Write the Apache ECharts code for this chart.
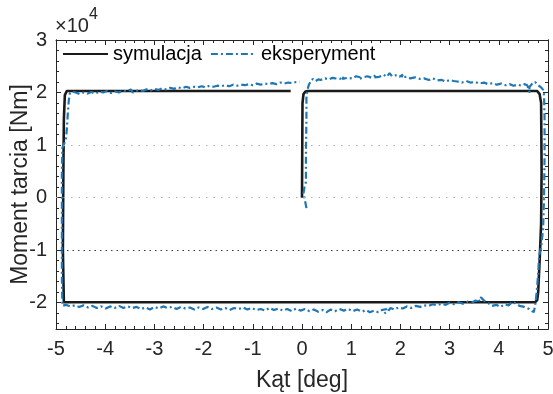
<!DOCTYPE html>
<html><head><meta charset="utf-8">
<script src="https://cdn.jsdelivr.net/npm/echarts@6/dist/echarts.min.js"></script>
<style>html,body{margin:0;padding:0;background:#fff}#c{width:553px;height:394px}</style>
</head><body><div id="c"></div>
<script>
// values in units of 1e4 Nm (axis shows ×10^4)
const xTicks = [-5,-4,-3,-2,-1,0,1,2,3,4,5];
const yTicks = [-2,-1,0,1,2,3];
const gridLineVals = [1, 0, -1];

// symulacja (black)
const simX = [0.00, 0.01, 0.03, 0.07, 0.12, 4.78, 4.83, 4.86, 4.87, 4.86, 4.83, 4.80, 4.78, 4.74, -4.84, -4.86, -4.86, -4.85, -4.84, -4.82, -4.78, -0.23];
const simY = [0.00, 1.80, 1.97, 2.02, 2.03, 2.03, 1.97, 1.80, 0.50, -0.50, -1.20, -1.80, -1.95, -1.99, -1.99, -1.96, -1.00, 0.50, 1.50, 1.95, 2.03, 2.03];

// eksperyment (blue), segments
const expStart = [[0.09,-0.20],[0.06,-0.05],[0.03,0.08],[0.05,0.20],[0.08,0.30],[0.08,0.90],[0.09,1.50],[0.09,1.90],[0.11,2.05],[0.14,2.15],[0.18,2.22]];
const expTopRight = [[0.22,2.26],[0.28,2.22],[0.33,2.25],[0.30,2.28],[0.38,2.24],[0.47,2.27],[0.55,2.25],[0.62,2.28],[0.58,2.31],[0.68,2.27],[0.77,2.26],[0.85,2.30],[0.82,2.26],[0.93,2.28],[1.02,2.27],[1.10,2.31],[1.18,2.29],[1.15,2.25],[1.25,2.29],[1.33,2.31],[1.42,2.28],[1.50,2.33],[1.47,2.29],[1.57,2.30],[1.66,2.34],[1.72,2.30],[1.78,2.37],[1.83,2.31],[1.80,2.28],[1.90,2.33],[1.98,2.30],[2.05,2.34],[2.02,2.29],[2.12,2.30],[2.20,2.27],[2.30,2.29],[2.40,2.26],[2.48,2.27],[2.58,2.24],[2.66,2.27],[2.75,2.23],[2.84,2.24],[2.92,2.21],[3.00,2.24],[3.08,2.22],[3.05,2.19],[3.16,2.21],[3.25,2.19],[3.34,2.22],[3.42,2.19],[3.52,2.20],[3.60,2.17],[3.70,2.19],[3.78,2.16],[3.88,2.18],[3.96,2.15],[4.05,2.17],[4.14,2.14],[4.22,2.16],[4.30,2.13],[4.38,2.15],[4.46,2.13],[4.52,2.16],[4.58,2.14],[4.61,2.04],[4.63,2.00],[4.62,2.10],[4.68,2.17],[4.74,2.20],[4.78,2.15],[4.82,2.18],[4.86,2.10],[4.90,2.05],[4.92,1.95]];
const expRight = [[4.93,1.50],[4.93,0.80],[4.92,0.00],[4.90,-0.60],[4.86,-0.95],[4.82,-1.10],[4.80,-1.45],[4.77,-1.80],[4.74,-2.05],[4.71,-2.18]];
const expBottom = [[4.62,-2.12],[4.52,-2.08],[4.42,-2.06],[4.35,-2.02],[4.28,-1.98],[4.20,-2.05],[4.12,-2.03],[4.03,-2.08],[3.95,-2.04],[3.86,-2.06],[3.78,-2.00],[3.70,-1.96],[3.64,-1.90],[3.58,-1.94],[3.62,-1.98],[3.52,-1.96],[3.45,-2.00],[3.36,-1.98],[3.27,-2.02],[3.18,-1.99],[3.09,-2.03],[3.00,-2.00],[2.92,-2.04],[2.83,-2.02],[2.75,-2.05],[2.66,-2.03],[2.57,-2.06],[2.48,-2.05],[2.40,-2.08],[2.31,-2.06],[2.22,-2.10],[2.13,-2.07],[2.05,-2.11],[1.96,-2.09],[1.88,-2.13],[1.80,-2.10],[1.74,-2.17],[1.68,-2.20],[1.72,-2.12],[1.62,-2.14],[1.55,-2.18],[1.47,-2.15],[1.38,-2.18],[1.30,-2.14],[1.22,-2.17],[1.12,-2.13],[1.03,-2.16],[0.94,-2.12],[0.85,-2.15],[0.76,-2.12],[0.67,-2.16],[0.58,-2.13],[0.50,-2.18],[0.42,-2.14],[0.33,-2.17],[0.24,-2.13],[0.15,-2.16],[0.06,-2.12],[-0.03,-2.15],[-0.12,-2.11],[-0.21,-2.16],[-0.30,-2.12],[-0.39,-2.15],[-0.48,-2.11],[-0.57,-2.14],[-0.66,-2.10],[-0.75,-2.15],[-0.84,-2.12],[-0.93,-2.14],[-1.02,-2.10],[-1.11,-2.13],[-1.20,-2.09],[-1.29,-2.12],[-1.38,-2.10],[-1.47,-2.14],[-1.56,-2.10],[-1.65,-2.13],[-1.74,-2.09],[-1.83,-2.12],[-1.92,-2.08],[-2.01,-2.12],[-2.10,-2.09],[-2.19,-2.13],[-2.28,-2.09],[-2.37,-2.11],[-2.46,-2.08],[-2.55,-2.12],[-2.64,-2.08],[-2.73,-2.10],[-2.82,-2.07],[-2.91,-2.11],[-3.00,-2.08],[-3.09,-2.13],[-3.18,-2.09],[-3.27,-2.12],[-3.36,-2.08],[-3.45,-2.10],[-3.54,-2.07],[-3.63,-2.10],[-3.72,-2.06],[-3.81,-2.10],[-3.90,-2.07],[-3.99,-2.11],[-4.08,-2.07],[-4.17,-2.10],[-4.26,-2.06],[-4.35,-2.09],[-4.44,-2.05],[-4.53,-2.08],[-4.62,-2.05],[-4.71,-2.07],[-4.80,-2.04],[-4.87,-2.06]];
const expLeft = [[-4.88,-1.50],[-4.88,-0.50],[-4.88,0.50],[-4.87,0.95],[-4.80,1.10],[-4.78,1.30],[-4.76,1.60],[-4.74,1.85],[-4.72,1.98],[-4.68,2.02]];
const expTopLeft = [[-4.60,2.00],[-4.52,1.97],[-4.44,2.00],[-4.36,1.98],[-4.28,2.01],[-4.20,1.98],[-4.12,2.02],[-4.04,2.00],[-3.96,2.03],[-3.88,1.99],[-3.80,2.02],[-3.72,2.00],[-3.64,2.04],[-3.56,2.02],[-3.48,2.06],[-3.44,2.00],[-3.40,2.03],[-3.32,2.05],[-3.24,2.03],[-3.16,2.06],[-3.08,2.04],[-3.00,2.07],[-2.92,2.05],[-2.84,2.08],[-2.76,2.06],[-2.68,2.09],[-2.60,2.07],[-2.52,2.10],[-2.44,2.08],[-2.36,2.11],[-2.28,2.09],[-2.20,2.11],[-2.12,2.10],[-2.04,2.12],[-1.96,2.10],[-1.88,2.13],[-1.80,2.11],[-1.72,2.13],[-1.64,2.12],[-1.56,2.14],[-1.48,2.12],[-1.40,2.15],[-1.32,2.13],[-1.24,2.15],[-1.16,2.14],[-1.08,2.16],[-1.00,2.14],[-0.92,2.17],[-0.84,2.15],[-0.76,2.17],[-0.68,2.16],[-0.60,2.18],[-0.52,2.16],[-0.44,2.19],[-0.36,2.17],[-0.28,2.19],[-0.20,2.18],[-0.12,2.20],[-0.05,2.21]];

const FONT = 'Liberation Sans, Arial, Helvetica, sans-serif';
const AX = '#262626';
const BLUE = '#1f77b4';
const simData = simX.map((x,i)=>[x, simY[i]]);
const expData = [].concat(expStart, expTopRight, expRight, expBottom, expLeft, expTopLeft);

const yMinor = [];
for (let k = -12; k <= 15; k++) { if (k % 5 !== 0) yMinor.push(+(k*0.2).toFixed(1)); }

function xAx(pos, show) {
  return {type:'value', min:-5, max:5, interval:1, position:pos,
    axisLine:{show:true, onZero:false, lineStyle:{color:AX, width:1}},
    axisTick:{show:true, inside:true, length:5, lineStyle:{color:AX}},
    minorTick:{show:true, splitNumber:5, length:3, lineStyle:{color:AX}},
    splitLine:{show:false}, minorSplitLine:{show:false},
    axisLabel:{show:show, fontSize:20, color:AX, fontFamily:FONT, margin:10},
    name: show ? 'Kąt [deg]' : '', nameLocation:'middle', nameGap:40, nameMoveOverlap:false,
    nameTextStyle:{fontSize:23, color:AX, fontFamily:FONT}};
}
function yAx(pos, vals, len, labels) {
  return {type:'value', min:-2.5, max:3, position:pos,
    axisLine:{show:true, onZero:false, lineStyle:{color:AX, width:1}},
    axisTick:{show:true, inside:true, length:len, customValues:vals, lineStyle:{color:AX}},
    splitLine:{show:false},
    axisLabel:{show:labels, customValues:vals, fontSize:20, color:AX, fontFamily:FONT, margin:9},
    name: labels ? 'Moment tarcia [Nm]' : '', nameLocation:'middle', nameGap:24, nameMoveOverlap:false,
    nameTextStyle:{fontSize:23, color:AX, fontFamily:FONT}};
}

const chart = echarts.init(document.getElementById('c'), null, {renderer:'canvas'});
chart.setOption({
  animation:false,
  backgroundColor:'#fff',
  grid:{left:56, right:5, top:40, bottom:65, containLabel:false, outerBoundsMode:'none'},
  xAxis:[xAx('bottom', true), xAx('top', false)],
  yAxis:[yAx('left', yTicks, 5, true), yAx('left', yMinor, 3, false), yAx('right', yTicks, 5, false), yAx('right', yMinor, 3, false)],
  legend:{left:62, top:44, itemWidth:45, itemHeight:14, itemGap:8, padding:[0,0,0,0],
    itemStyle:{opacity:0},
    textStyle:{fontSize:20, color:'#000', fontFamily:FONT},
    data:['symulacja','eksperyment']},
  title:[
    {text:'×10', left:55, top:16, padding:0, textStyle:{fontSize:20, fontWeight:'normal', fontFamily:FONT, color:AX}},
    {text:'4', left:89, top:7, padding:0, textStyle:{fontSize:16, fontWeight:'normal', fontFamily:FONT, color:AX}}
  ],
  series:[
    {type:'line', name:'_grid', data:[], z:0, silent:true, symbol:'none',
      markLine:{silent:true, symbol:'none', label:{show:false}, animation:false,
        data: gridLineVals.map(v => ({yAxis:v, lineStyle:{color: v === -1 ? '#3a3a3a' : '#b0b0b0', width:1, type: v === -1 ? [1.5,4] : [1.5,6]}}))}},
    {type:'line', name:'symulacja', data:simData, symbol:'none', z:2,
      lineStyle:{color:'#1a1a1a', width:2.6, join:'round'}, itemStyle:{color:'#1a1a1a'}},
    {type:'line', name:'eksperyment', data:expData, symbol:'none', z:3,
      lineStyle:{color:BLUE, width:2.2, type:[7,3,2,3]}, itemStyle:{color:BLUE}}
  ]
});
</script></body></html>
